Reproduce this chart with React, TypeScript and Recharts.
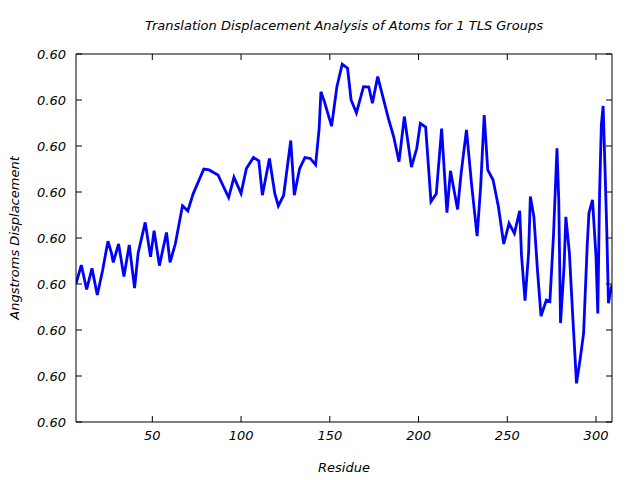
import { LineChart, Line, XAxis, YAxis } from "recharts";

const residues = [
  7, 10, 13, 16, 19, 22, 25, 27, 28, 31, 34, 37, 40, 42, 46, 49, 51, 54, 58, 60,
  63, 67, 70, 73, 79, 82, 87, 93, 96, 100, 103, 107, 110, 112, 116, 119, 121, 124, 128, 130,
  133, 136, 139, 142, 144, 145, 147, 151, 154, 157, 160, 162, 165, 169, 172, 174, 177, 183, 186, 189,
  192, 196, 199, 201, 204, 207, 210, 213, 216, 218, 222, 224, 227, 230, 233, 235, 237, 239, 242, 245,
  248, 251, 254, 257, 258, 260, 262, 263, 265, 267, 269, 272, 274, 276, 278, 279, 280, 282, 283, 285,
  287, 289, 291, 293, 295, 296, 298, 300, 301, 302, 303, 304, 305, 306, 307, 308, 309,
];

const displacement = [
  0.59901, 0.59941, 0.59888, 0.59934, 0.59876, 0.5993, 0.59993, 0.59967, 0.59947, 0.59987,
  0.59916, 0.59985, 0.59891, 0.59967, 0.60034, 0.59959, 0.60016, 0.5994, 0.60012, 0.59947,
  0.59988, 0.6007, 0.60059, 0.60096, 0.6015, 0.60148, 0.60137, 0.60088, 0.60132, 0.60097,
  0.60151, 0.60175, 0.60168, 0.60093, 0.60173, 0.60097, 0.6007, 0.60093, 0.60212, 0.60093,
  0.60151, 0.60175, 0.60173, 0.60159, 0.60238, 0.60318, 0.60296, 0.60243, 0.60329, 0.60378,
  0.60369, 0.603, 0.60272, 0.60329, 0.60328, 0.60293, 0.60351, 0.6026, 0.6022, 0.60166,
  0.60264, 0.60154, 0.60195, 0.60249, 0.60241, 0.60079, 0.60096, 0.60238, 0.60055, 0.60146,
  0.60062, 0.60141, 0.60235, 0.60112, 0.60004, 0.60112, 0.60267, 0.60148, 0.60126, 0.60068,
  0.59987, 0.60032, 0.6001, 0.60059, 0.59963, 0.59864, 0.59967, 0.6009, 0.60046, 0.5993,
  0.5983, 0.59865, 0.59862, 0.60003, 0.60195, 0.60083, 0.59815, 0.59938, 0.60046, 0.59967,
  0.59822, 0.59684, 0.59735, 0.59793, 0.59981, 0.60054, 0.60083, 0.59959, 0.59836, 0.60097,
  0.60246, 0.60287, 0.60159, 0.60025, 0.59858, 0.5988, 0.59898,
];

const xTicks = [50, 100, 150, 200, 250, 300];
const yTicks = [0.596, 0.597, 0.598, 0.599, 0.6, 0.601, 0.602, 0.603, 0.604];

const data = residues.map((r, i) => ({ residue: r, value: displacement[i] }));

const font = { fontFamily: "DejaVu Sans", fontStyle: "italic", fontSize: 13, fill: "#000" };
const axisLine = { stroke: "#000", strokeWidth: 1 };
const fmt = (v: number) => v.toFixed(2);
const blank = () => "";

export default function App() {
  return (
    <div style={{ position: "absolute", left: 0, top: 0, width: 640, height: 480, background: "#fff" }}>
      <div
        style={{
          position: "absolute",
          left: 76,
          width: 536,
          top: 18,
          textAlign: "center",
          ...font,
        }}
      >
        Translation Displacement Analysis of Atoms for 1 TLS Groups
      </div>
      <LineChart width={640} height={480} data={data} margin={{ top: 53, right: 27, bottom: 0, left: 0 }}>
        <XAxis
          dataKey="residue"
          type="number"
          domain={[7, 309]}
          ticks={xTicks}
          allowDataOverflow
          height={58}
          tickSize={-6}
          tickMargin={15}
          tick={font}
          axisLine={axisLine}
          tickLine={axisLine}
          label={{ value: "Residue", position: "insideBottom", offset: 8, ...font }}
        />
        <XAxis
          xAxisId="top"
          orientation="top"
          dataKey="residue"
          type="number"
          domain={[7, 309]}
          ticks={xTicks}
          allowDataOverflow
          height={1}
          tickSize={-6}
          tickFormatter={blank}
          axisLine={axisLine}
          tickLine={axisLine}
        />
        <YAxis
          type="number"
          domain={[0.596, 0.604]}
          ticks={yTicks}
          allowDataOverflow
          width={76}
          tickSize={-6}
          tickMargin={16}
          tickFormatter={fmt}
          tick={font}
          axisLine={axisLine}
          tickLine={axisLine}
          label={{
            value: "Angstroms Displacement",
            angle: -90,
            position: "insideLeft",
            offset: 14,
            style: { textAnchor: "middle" },
            ...font,
          }}
        />
        <YAxis
          yAxisId="right"
          orientation="right"
          type="number"
          domain={[0.596, 0.604]}
          ticks={yTicks}
          allowDataOverflow
          width={1}
          tickSize={-6}
          tickFormatter={blank}
          axisLine={axisLine}
          tickLine={axisLine}
        />
        <Line
          dataKey="value"
          type="linear"
          stroke="#0000ff"
          strokeWidth={2.8}
          dot={false}
          isAnimationActive={false}
        />
      </LineChart>
    </div>
  );
}
